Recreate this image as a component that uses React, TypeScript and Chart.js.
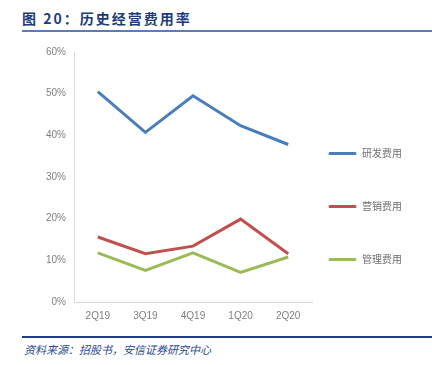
import React, { useEffect, useRef } from "react";
import { Chart, registerables } from "chart.js";

Chart.register(...registerables);

const categories = ["2Q19", "3Q19", "4Q19", "1Q20", "2Q20"];
const rdRate = [50.5, 40.7, 49.5, 42.3, 37.8];
const salesRate = [15.6, 11.6, 13.4, 19.9, 11.6];
const adminRate = [11.8, 7.6, 11.8, 7.1, 10.8];
const seriesNames = ["研发费用", "营销费用", "管理费用"];
const yTicks = [0, 10, 20, 30, 40, 50, 60];

const sideLegend = {
  id: "sideLegend",
  afterDraw(chart: any) {
    const { ctx, chartArea } = chart;
    const h = chartArea.bottom - chartArea.top;
    const x0 = chartArea.right + 18;
    ctx.save();
    ctx.font = "10px 'Noto Sans CJK SC'";
    ctx.textBaseline = "middle";
    ctx.textAlign = "left";
    chart.data.datasets.forEach((ds: any, i: number) => {
      const y = Math.round(chartArea.top + h * (0.405 + 0.212 * i)) + 0.5;
      ctx.strokeStyle = ds.borderColor;
      ctx.lineWidth = 3;
      ctx.lineCap = "round";
      ctx.beginPath();
      ctx.moveTo(x0, y);
      ctx.lineTo(x0 + 25, y);
      ctx.stroke();
      ctx.fillStyle = "#6f6f6f";
      ctx.fillText(ds.label, x0 + 32, y);
    });
    ctx.restore();
  },
};

export default function App() {
  const ref = useRef<HTMLCanvasElement | null>(null);
  useEffect(() => {
    if (!ref.current) return;
    const chart = new Chart(ref.current, {
      type: "line",
      data: {
        labels: categories,
        datasets: [
          { label: seriesNames[0], data: rdRate, borderColor: "#4a7ebb", backgroundColor: "#4a7ebb" },
          { label: seriesNames[1], data: salesRate, borderColor: "#c0504d", backgroundColor: "#c0504d" },
          { label: seriesNames[2], data: adminRate, borderColor: "#9bbb59", backgroundColor: "#9bbb59" },
        ].map((d) => ({ ...d, borderWidth: 3, pointRadius: 0, tension: 0, fill: false })),
      },
      options: {
        animation: false,
        responsive: false,
        layout: { padding: { top: 2, left: 38, right: 120, bottom: 0 } },
        plugins: {
          title: { display: false },
          tooltip: { enabled: false },
          legend: { display: false },
        },
        scales: {
          x: {
            offset: true,
            grid: { display: false, drawTicks: false },
            border: { display: true, color: "#d9d9d9", width: 1 },
            ticks: { color: "#7f7f7f", font: { family: "'Liberation Sans'", size: 10 }, padding: 8 },
          },
          y: {
            min: 0,
            max: 60,
            afterBuildTicks: (axis: any) => {
              axis.ticks = yTicks.map((v) => ({ value: v }));
            },
            grid: { display: false, drawTicks: false },
            border: { display: true, color: "#d9d9d9", width: 1 },
            ticks: {
              color: "#7f7f7f",
              font: { family: "'Liberation Sans'", size: 10 },
              padding: 8,
              callback: (v: any) => v + "%",
            },
          },
        },
      },
      plugins: [sideLegend],
    });
    return () => chart.destroy();
  }, []);

  return (
    <div style={{ position: "absolute", left: 0, top: 0, width: 432, height: 365, background: "#fff", overflow: "hidden" }}>
      <div
        style={{
          position: "absolute",
          left: 22,
          top: 8,
          fontFamily: "'Noto Sans CJK SC', 'Liberation Sans'",
          fontWeight: 700,
          fontSize: 14,
          color: "#203c7c",
          letterSpacing: 2,
          lineHeight: "20px",
        }}
      >
        图 20：历史经营费用率
      </div>
      <div style={{ position: "absolute", left: 22, top: 30, width: 410, height: 2, background: "#5b7bbb" }} />
      <canvas ref={ref} width={432} height={292} style={{ position: "absolute", left: 0, top: 38 }} />
      <div style={{ position: "absolute", left: 22, top: 336, width: 410, height: 2, background: "#1f3d8a" }} />
      <div
        style={{
          position: "absolute",
          left: 24,
          top: 341,
          fontFamily: "'Noto Sans CJK SC'",
          fontStyle: "italic",
          fontSize: 11,
          color: "#2a4a8f",
          lineHeight: "16px",
        }}
      >
        资料来源：招股书，安信证券研究中心
      </div>
    </div>
  );
}
